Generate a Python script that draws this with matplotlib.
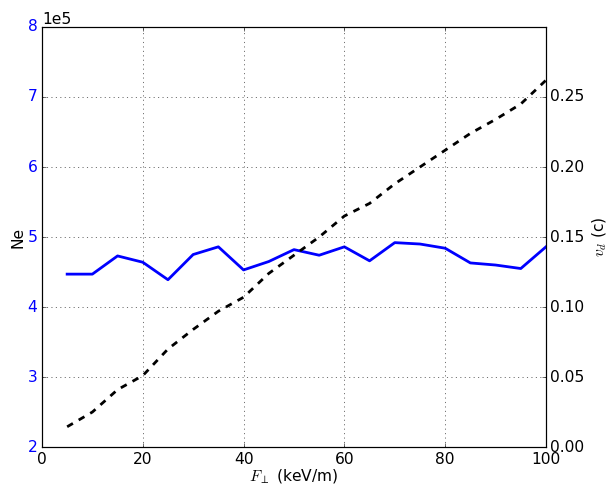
import numpy as np
import matplotlib
matplotlib.use("Agg")
import matplotlib.pyplot as plt

plt.style.use('classic')
plt.rcParams['font.size'] = 14

# perpendicular force (keV/m)
f_perp = [5, 10, 15, 20, 25, 30, 35, 40, 45, 50, 55, 60, 65, 70, 75, 80, 85, 90, 95, 100]
# number of electrons
ne = [4.47e5, 4.47e5, 4.73e5, 4.64e5, 4.39e5, 4.75e5, 4.86e5, 4.53e5, 4.65e5, 4.82e5,
      4.74e5, 4.86e5, 4.66e5, 4.92e5, 4.90e5, 4.84e5, 4.63e5, 4.60e5, 4.55e5, 4.86e5]
# drift velocity (c)
vd = [0.0145, 0.025, 0.041, 0.051, 0.070, 0.084, 0.097, 0.107, 0.124, 0.137,
      0.150, 0.165, 0.174, 0.188, 0.200, 0.212, 0.224, 0.234, 0.245, 0.262]

fig = plt.figure(figsize=(7.6, 6.0875), dpi=80, facecolor='white')
ax1 = fig.add_axes([0.069, 0.082, 0.829, 0.8626])
ax1.plot(f_perp, ne, color='b', linewidth=2.5)
ax1.set_xlim(0, 100)
ax1.set_ylim(2e5, 8e5)
ax1.set_xlabel(r"$F_\perp$ (keV/m)", labelpad=1)
ax1.set_ylabel("Ne", labelpad=2)
ax1.ticklabel_format(axis='y', style='sci', scilimits=(0, 0))
for t in ax1.get_yticklabels():
    t.set_color('b')
ax1.grid(True)

ax2 = ax1.twinx()
ax2.plot(f_perp, vd, color='k', linestyle='--', linewidth=2.5)
ax2.set_ylim(0, 0.3)
ax2.set_yticks([0.0, 0.05, 0.10, 0.15, 0.20, 0.25])
ax2.set_yticklabels(["0.00", "0.05", "0.10", "0.15", "0.20", "0.25"])
ax2.set_xlim(0, 100)
ax2.set_ylabel(r"$v_d$ (c)")

fig.savefig("out.png", dpi=80, facecolor='white')
